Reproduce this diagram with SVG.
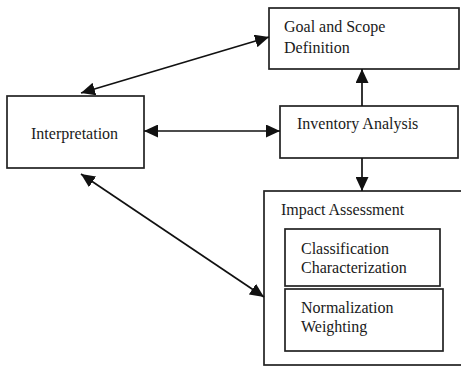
<svg xmlns="http://www.w3.org/2000/svg" width="461" height="367" viewBox="0 0 461 367">
<style>
.box{fill:#fff;stroke:#222;stroke-width:1.7}
.t{font-family:"Liberation Serif","Times New Roman",serif;font-size:16px;fill:#1a1a1a}
.c{stroke:#111;stroke-width:1.7;fill:none}
</style>
<defs>
<marker id="ah" viewBox="0 0 14 13" refX="14" refY="6.5" markerWidth="14" markerHeight="13" markerUnits="userSpaceOnUse" orient="auto-start-reverse">
<path d="M0,0 L14,6.5 L0,13 Z" fill="#111"/>
</marker>
</defs>
<rect width="461" height="367" fill="#fff"/>
<g id="goal">
<rect class="box" x="269" y="8" width="190" height="61"/>
<text class="t" x="284" y="32">Goal and Scope</text>
<text class="t" x="284" y="53">Definition</text>
</g>
<g id="interpretation">
<rect class="box" x="7" y="96" width="137" height="72"/>
<text class="t" x="31" y="139">Interpretation</text>
</g>
<g id="inventory">
<rect class="box" x="280" y="106" width="178" height="52"/>
<text class="t" x="297" y="129">Inventory Analysis</text>
</g>
<g id="impact">
<rect class="box" x="264" y="191" width="198" height="174"/>
<text class="t" x="281" y="215">Impact Assessment</text>
</g>
<g id="classification">
<rect class="box" x="285" y="229" width="155" height="57"/>
<text class="t" x="301" y="254">Classification</text>
<text class="t" x="301" y="273">Characterization</text>
</g>
<g id="normalization">
<rect class="box" x="285" y="289" width="158" height="62"/>
<text class="t" x="301" y="313">Normalization</text>
<text class="t" x="301" y="332">Weighting</text>
</g>
<g id="connectors">
<line class="c" x1="362" y1="106" x2="362" y2="69" marker-end="url(#ah)"/>
<line class="c" x1="362" y1="158" x2="362" y2="191" marker-end="url(#ah)"/>
<line class="c" x1="144" y1="131" x2="280" y2="131" marker-start="url(#ah)" marker-end="url(#ah)"/>
<line class="c" x1="81" y1="93" x2="269" y2="37" marker-start="url(#ah)" marker-end="url(#ah)"/>
<line class="c" x1="81" y1="174" x2="264" y2="297" marker-start="url(#ah)" marker-end="url(#ah)"/>
</g>
</svg>
